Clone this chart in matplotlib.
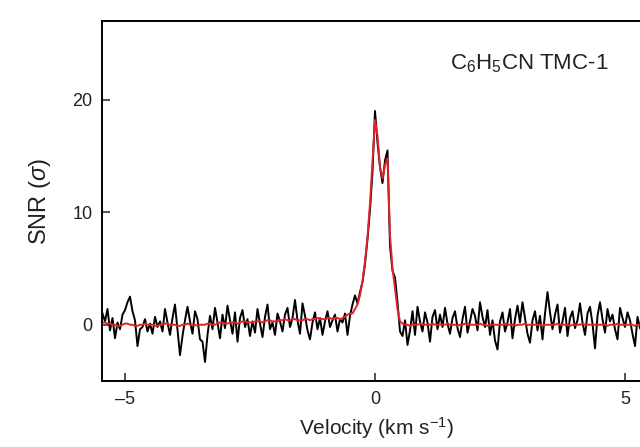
import numpy as np
import matplotlib
matplotlib.use("Agg")
import matplotlib.pyplot as plt

plt.rcParams['font.family'] = ['Liberation Sans', 'DejaVu Sans']
plt.rcParams['mathtext.fontset'] = 'custom'
plt.rcParams['mathtext.rm'] = 'Liberation Sans'
plt.rcParams['mathtext.it'] = 'Liberation Sans:italic'

# channel axis (km/s)
v_start = -5.45
v_step = 0.05

# observed spectrum, SNR per channel
snr = [
    1.0, 0.3, 1.4, -0.5, 0.6, -1.2, 0.2, -0.4, 0.9, 1.3, 2.0, 2.5, 1.2, 0.4, -1.9, -0.4, -0.2, 0.5, -0.6, 0.1,
    -0.8, 0.7, -0.2, 0.3, -0.6, 1.4, 0.2, -0.9, 0.6, 1.8, -0.5, -2.7, -1.0, 0.4, 1.6, 0.3, -0.8, 1.2, 0.5, -1.3,
    -1.5, -3.3, -0.9, 0.8, -0.4, 1.5, 0.2, -1.2, 0.9, -0.3, 1.7, 0.4, -0.8, 1.1, -1.5, 0.6, 1.3, -0.2, 0.5, -1.0,
    0.3, -0.7, 1.4, 0.1, -1.1, 0.7, 1.8, -0.4, 0.2, -0.9, 1.0, 0.3, -0.6, 0.9, 1.5, -0.2, 0.6, 2.2, 0.4, -0.8,
    1.9, 0.8, -0.5, -1.3, 0.2, 1.1, -0.4, 0.6, -0.9, 0.3, 1.2, -0.2, 0.4, 0.9, -0.6, 0.5, 0.2, 1.0, -0.9, 0.8,
    1.8, 2.6, 1.9, 2.9, 3.8, 5.4, 7.6, 10.2, 13.6, 19.0, 16.2, 14.0, 12.6, 14.6, 15.5, 7.0, 4.8, 4.2, 2.0, -0.6,
    -1.0, 0.4, -1.8, -0.5, 1.2, -0.9, 1.6, 0.3, -0.6, 1.1, 0.2, -1.5, 0.7, 1.3, -0.4, 0.9, -0.2, 1.5, 0.1, -0.8,
    0.6, 1.2, -0.3, -1.1, 0.5, 1.6, -0.7, 0.3, 1.4, 0.8, -0.5, 2.0, 0.7, -0.2, 1.3, -0.9, 0.4, -1.4, -2.2, 0.3,
    1.1, -0.6, 0.2, 1.4, -1.2, 0.5, 1.7, 0.2, 2.0, 0.6, -0.8, -1.6, 0.4, 1.2, -0.5, 0.8, -1.3, 1.0, 2.9, 1.1,
    -0.4, 0.9, 1.8, -0.7, 0.3, 1.5, -1.0, 0.6, 1.2, -0.3, 0.4, 1.9, 0.2, -0.9, 1.0, 1.6, 0.1, -2.1, 0.8, 2.0,
    0.5, -0.7, 1.4, 0.3, 0.9, -0.4, -1.3, 1.5, 0.6, -0.2, 1.1, 0.4, -0.8, -1.9, 0.7, -0.3,
]

# fitted model
model = [
    0.2, 0.2, 0.1, 0.1, 0.0, 0.0, -0.1, -0.1, 0.0, 0.1, 0.1, 0.0, 0.0, -0.1, -0.1, 0.0, 0.0, 0.1, 0.0, 0.0,
    0.0, -0.1, -0.1, 0.0, 0.0, 0.1, 0.1, 0.0, 0.0, 0.0, -0.1, -0.1, 0.0, 0.0, 0.1, 0.0, 0.0, 0.0, -0.1, 0.0,
    0.0, 0.0, 0.1, 0.1, 0.0, 0.0, 0.1, 0.2, 0.2, 0.1, 0.1, 0.2, 0.2, 0.2, 0.1, 0.2, 0.3, 0.3, 0.2, 0.2,
    0.2, 0.3, 0.3, 0.3, 0.2, 0.3, 0.4, 0.4, 0.3, 0.3, 0.3, 0.4, 0.4, 0.5, 0.4, 0.4, 0.5, 0.5, 0.4, 0.4,
    0.4, 0.5, 0.5, 0.4, 0.5, 0.5, 0.6, 0.5, 0.5, 0.5, 0.6, 0.6, 0.5, 0.6, 0.6, 0.5, 0.6, 0.7, 0.9, 1.0,
    1.0, 1.4, 1.8, 2.6, 3.9, 5.6, 7.8, 10.8, 14.5, 18.2, 16.8, 14.0, 13.0, 14.2, 14.8, 8.0, 5.0, 3.2, 1.4, 0.3,
    0.1, 0.0, 0.0, -0.1, 0.0, 0.0, 0.0, 0.1, 0.0, 0.0, 0.0, 0.0, 0.1, 0.0, 0.0, 0.0, 0.0, 0.0, 0.1, 0.0,
    0.0, 0.0, -0.1, 0.0, 0.0, 0.1, 0.0, 0.0, 0.0, 0.0, 0.0, 0.1, 0.0, 0.0, -0.1, 0.0, 0.0, 0.0, 0.0, 0.0,
    0.0, 0.1, 0.0, 0.0, 0.0, -0.1, 0.0, 0.0, 0.0, 0.1, 0.0, 0.0, 0.0, 0.0, 0.0, 0.0, -0.1, 0.0, 0.0, 0.0,
    0.0, 0.0, 0.1, 0.0, 0.0, 0.0, 0.0, -0.1, 0.0, 0.0, 0.0, 0.0, 0.1, 0.0, 0.0, 0.0, 0.0, 0.0, 0.0, 0.0,
    0.0, 0.0, -0.1, 0.0, 0.0, 0.0, 0.1, 0.0, 0.0, 0.0, 0.0, 0.0, 0.0, -0.1, 0.0, 0.0,
]

x_ticks = [-5, 0, 5]
x_tick_labels = ['\u20135', '0', '5']
y_ticks = [0, 10, 20]
label = "C$_6$H$_5$CN TMC-1"

vel = v_start + v_step * np.arange(len(snr))

fig = plt.figure(figsize=(6.4, 4.47), dpi=100)
# axes runs past the right edge, like the cropped original
ax = fig.add_axes([102 / 640, 66 / 447, 548 / 640, 360 / 447])

ax.plot(vel, snr, color='black', lw=1.4)
ax.plot(vel, model, color='#e2232a', lw=1.4)

ax.set_xlim(-5.46, 5.5)
ax.set_ylim(-5, 27)
ax.set_xticks(x_ticks)
ax.set_xticklabels(x_tick_labels)
ax.set_yticks(y_ticks)
ax.tick_params(direction='in', length=6, width=1.1, labelsize=13, pad=7,
               colors='#222222')
for s in ax.spines.values():
    s.set_linewidth(1.4)

ax.text(4.66, 23.2, label, ha='right', va='center', fontsize=16, color='#222222')
ax.set_ylabel("SNR ($\\sigma$)", fontsize=17, labelpad=14, color='#222222')
ax.set_xlabel("Velocity (km s$^{-1}$)", fontsize=15, labelpad=5, color='#222222')

fig.savefig("out.png", dpi=100)
